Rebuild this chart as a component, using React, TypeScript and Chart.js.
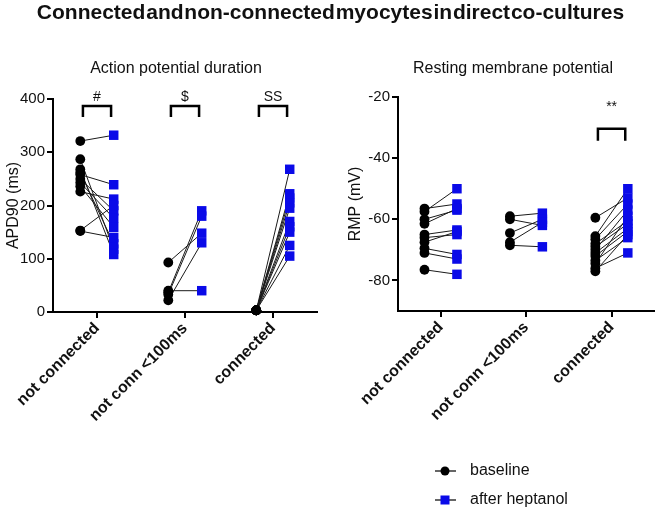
import React, { useEffect, useRef } from 'react';
import { Chart, registerables } from 'chart.js';

Chart.register(...registerables);

const FONT = '"Liberation Sans", Arial, Helvetica, sans-serif';
const BLUE = '#0a0ae8';

const categories = ['not connected', 'not conn <100ms', 'connected'];
const seriesLabels = ['baseline', 'after heptanol'];

// APD90 (ms)
const apdBaseNotConn = [321, 287, 268, 262, 258, 250, 243, 236, 226, 153, 152];
const apdAfterNotConn = [332, 118, 108, 128, 239, 190, 176, 159, 212, 200, 140];
const apdBaseShort = [93, 40, 37, 33, 22];
const apdAfterShort = [148, 40, 190, 180, 130];
const apdBaseConn = [3, 3, 3, 3, 3, 3, 3, 3, 3, 3];
const apdAfterConn = [268, 222, 214, 205, 195, 170, 160, 150, 125, 105];
const apdTicks = [0, 100, 200, 300, 400];
const apdMarks = ['#', '$', 'SS'];

// RMP (mV)
const rmpBaseNotConn = [-56.5, -57.5, -60, -61.5, -65, -66, -67.5, -69.5, -71, -76.5];
const rmpAfterNotConn = [-55, -50, -57, -56.5, -63.5, -65, -64, -71.5, -73, -78];
const rmpBaseShort = [-59, -60, -64.5, -67.5, -68.5];
const rmpAfterShort = [-58, -62, -60, -61, -69];
const rmpBaseConn = [-59.5, -65.5, -66.5, -68, -69, -70, -71, -72, -73.5, -74.5, -76, -77];
const rmpAfterConn = [-53, -50, -55, -60.5, -61.5, -57, -63, -64, -66, -59, -71, -65];
const rmpTicks = [-80, -60, -40, -20];
const rmpMarks = ['', '', '**'];

const OFF = 0.19;

function buildDatasets(base: number[][], after: number[][]) {
  const b: any[] = [];
  const a: any[] = [];
  const links: any[] = [];
  base.forEach((vals, g) => {
    vals.forEach((v, i) => {
      const w = after[g][i];
      b.push({ x: g - OFF, y: v });
      a.push({ x: g + OFF, y: w });
      links.push({ x: g - OFF, y: v }, { x: g + OFF, y: w }, { x: g, y: null });
    });
  });
  return [
    {
      label: seriesLabels[1], data: a, pointStyle: 'rect', pointRadius: 6.7,
      backgroundColor: BLUE, borderColor: BLUE, pointBackgroundColor: BLUE, pointBorderColor: BLUE,
      pointBorderWidth: 0, showLine: false, order: 0, clip: false,
    },
    {
      label: seriesLabels[0], data: b, pointStyle: 'circle', pointRadius: 4.9,
      backgroundColor: '#000', borderColor: '#000', pointBackgroundColor: '#000', pointBorderColor: '#000',
      pointBorderWidth: 0, showLine: false, order: 1, clip: false,
    },
    {
      label: '', data: links, showLine: true, pointRadius: 0, borderColor: '#1a1a1a',
      borderWidth: 1, spanGaps: false, order: 2, clip: false,
    },
  ];
}

function bracketPlugin(marks: string[], top: number, leg: number, textY: number) {
  return {
    id: 'brackets',
    afterDatasetsDraw(chart: any) {
      const { ctx, scales } = chart;
      const x = scales.x;
      const y = scales.y;
      ctx.save();
      marks.forEach((m, g) => {
        if (!m) return;
        const x0 = x.getPixelForValue(g - 0.16);
        const x1 = x.getPixelForValue(g + 0.16);
        const yt = y.getPixelForValue(top);
        const yl = y.getPixelForValue(leg);
        ctx.strokeStyle = '#000';
        ctx.lineWidth = 2.5;
        ctx.beginPath();
        ctx.moveTo(x0, yl);
        ctx.lineTo(x0, yt);
        ctx.lineTo(x1, yt);
        ctx.lineTo(x1, yl);
        ctx.stroke();
        ctx.fillStyle = '#111';
        ctx.font = `14px ${FONT}`;
        ctx.textAlign = 'center';
        ctx.textBaseline = 'middle';
        ctx.fillText(m, (x0 + x1) / 2, y.getPixelForValue(textY));
      });
      ctx.restore();
    },
  };
}

const legendPlugin = {
  id: 'pairLegend',
  afterDraw(chart: any) {
    const { ctx } = chart;
    ctx.save();
    seriesLabels.forEach((lab, i) => {
      const ds = chart.data.datasets.find((d: any) => d.label === lab);
      if (!ds) return;
      const cx = 115;
      const cy = 471 + i * 29;
      ctx.strokeStyle = '#000';
      ctx.lineWidth = 1.2;
      ctx.beginPath();
      ctx.moveTo(cx - 10, cy);
      ctx.lineTo(cx + 11, cy);
      ctx.stroke();
      ctx.fillStyle = ds.backgroundColor;
      if (ds.pointStyle === 'rect') {
        ctx.fillRect(cx - 4.5, cy - 4.5, 9, 9);
      } else {
        ctx.beginPath();
        ctx.arc(cx, cy, 4.5, 0, Math.PI * 2);
        ctx.fill();
      }
      ctx.fillStyle = '#111';
      ctx.font = `16px ${FONT}`;
      ctx.textAlign = 'left';
      ctx.textBaseline = 'middle';
      ctx.fillText(lab, cx + 25, cy);
    });
    ctx.restore();
  },
};

function makeScales(yMin: number, yMax: number, yTicks: number[], yTitle: string, yWidth: number, xHeight: number, titlePad: number) {
  return {
    x: {
      type: 'linear',
      min: -0.5,
      max: 2.5,
      afterBuildTicks: (s: any) => { s.ticks = categories.map((_, i) => ({ value: i })); },
      afterFit: (s: any) => { s.height = xHeight; },
      ticks: {
        callback: (v: any) => categories[v] ?? '',
        minRotation: 45,
        maxRotation: 45,
        autoSkip: false,
        padding: 1,
        color: '#111',
        font: { family: FONT, size: 16, weight: 'bold' },
      },
      grid: { display: true, drawOnChartArea: false, drawTicks: true, tickLength: 6, color: '#000', lineWidth: 2 },
      border: { display: true, color: '#000', width: 2 },
    },
    y: {
      type: 'linear',
      min: yMin,
      max: yMax,
      afterBuildTicks: (s: any) => { s.ticks = yTicks.map((v) => ({ value: v })); },
      afterFit: (s: any) => { s.width = yWidth; },
      ticks: { color: '#111', padding: 2, font: { family: FONT, size: 15 } },
      grid: { display: true, drawOnChartArea: false, drawTicks: true, tickLength: 6, color: '#000', lineWidth: 2 },
      border: { display: true, color: '#000', width: 2 },
      title: { display: true, text: yTitle, color: '#111', font: { family: FONT, size: 16 }, padding: { top: titlePad, bottom: 0 } },
    },
  };
}

export default function App() {
  const leftRef = useRef<HTMLCanvasElement>(null);
  const rightRef = useRef<HTMLCanvasElement>(null);

  useEffect(() => {
    const left = new Chart(leftRef.current as HTMLCanvasElement, {
      type: 'scatter',
      data: {
        datasets: buildDatasets(
          [apdBaseNotConn, apdBaseShort, apdBaseConn],
          [apdAfterNotConn, apdAfterShort, apdAfterConn]
        ) as any,
      },
      options: {
        animation: false,
        responsive: false,
        devicePixelRatio: 1,
        layout: { padding: { top: 99, left: 0, right: 18, bottom: 0 } },
        plugins: { legend: { display: false }, tooltip: { enabled: false }, title: { display: false } },
        scales: makeScales(0, 400, apdTicks, 'APD90 (ms)', 53, 128, 4) as any,
      },
      plugins: [bracketPlugin(apdMarks, 387, 366, 404)],
    });
    const right = new Chart(rightRef.current as HTMLCanvasElement, {
      type: 'scatter',
      data: {
        datasets: buildDatasets(
          [rmpBaseNotConn, rmpBaseShort, rmpBaseConn],
          [rmpAfterNotConn, rmpAfterShort, rmpAfterConn]
        ) as any,
      },
      options: {
        animation: false,
        responsive: false,
        devicePixelRatio: 1,
        layout: { padding: { top: 97, left: 0, right: 2, bottom: 0 } },
        plugins: { legend: { display: false }, tooltip: { enabled: false }, title: { display: false } },
        scales: makeScales(-90, -20, rmpTicks, 'RMP (mV)', 68, 199, 16) as any,
      },
      plugins: [bracketPlugin(rmpMarks, -30.4, -34.3, -23.3), legendPlugin],
    });
    return () => {
      left.destroy();
      right.destroy();
    };
  }, []);

  return (
    <div style={{ position: 'fixed', left: 0, top: 0, width: 661, height: 510, background: '#fff', fontFamily: FONT, color: '#111', overflow: 'hidden' }}>
      <canvas ref={leftRef} width={335} height={440} style={{ position: 'absolute', left: 0, top: 0 }} />
      <canvas ref={rightRef} width={331} height={510} style={{ position: 'absolute', left: 330, top: 0 }} />
      <div style={{ position: 'absolute', left: 0, top: 0, width: 661, textAlign: 'center', fontWeight: 700, fontSize: 21, wordSpacing: -5, lineHeight: '24px' }}>
        Connected and non-connected myocytes in direct co-cultures
      </div>
      <div style={{ position: 'absolute', left: 56, top: 59, width: 240, textAlign: 'center', fontSize: 16, lineHeight: '18px' }}>
        Action potential duration
      </div>
      <div style={{ position: 'absolute', left: 393, top: 59, width: 240, textAlign: 'center', fontSize: 16, lineHeight: '18px' }}>
        Resting membrane potential
      </div>
    </div>
  );
}
